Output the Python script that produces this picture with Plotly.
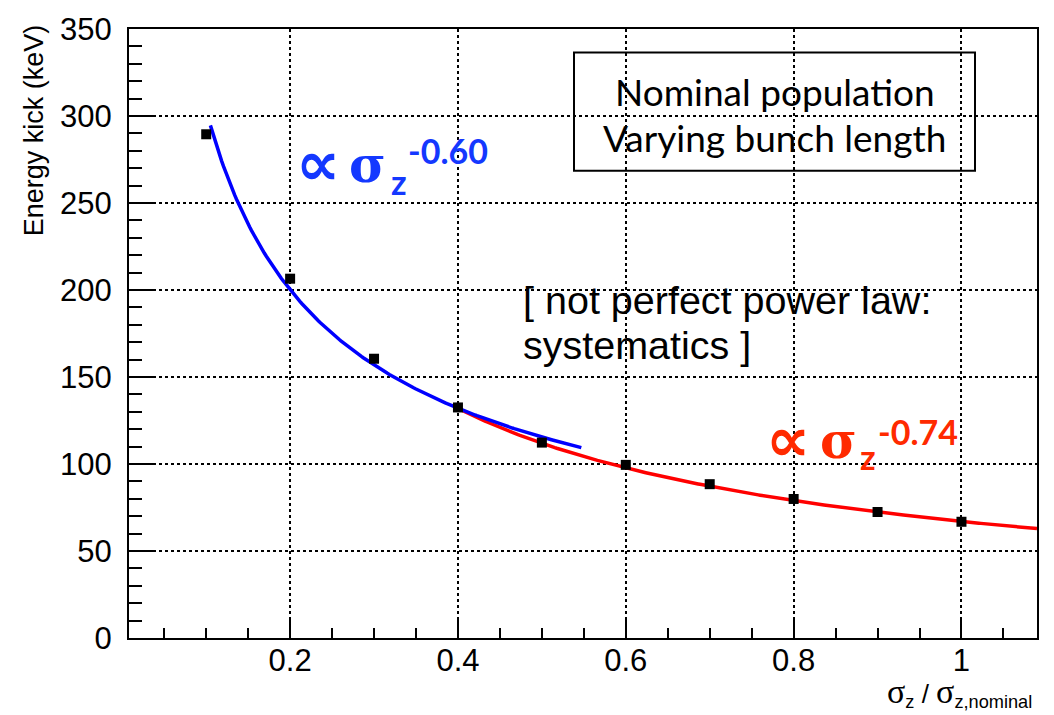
import numpy as np
import plotly.graph_objects as go

# Measured energy kick versus relative bunch length
sigma_ratio = [0.1, 0.2, 0.3, 0.4, 0.5, 0.6, 0.7, 0.8, 0.9, 1.0]
energy_kick = [289.5, 206.5, 160.5, 132.5, 112.3, 99.5, 88.4, 79.9, 72.4, 66.8]

# Power-law fits  E = amp * (sigma_z / sigma_z,nominal)^exp
short_fit_amp, short_fit_exp, short_fit_lo, short_fit_hi = 76.2, -0.60, 0.105, 0.547
long_fit_amp, long_fit_exp, long_fit_lo, long_fit_hi = 67.0, -0.74, 0.40, 1.09

x_range = [0.008, 1.09]
y_range = [0, 350]

# plot-area geometry in pixels (used to place free text)
W, H = 1054, 715
L, R, T, B = 129, 17, 19, 77
PX0, PX1, PY0, PY1 = L, W - R, T, H - B


def px(x):
    return (x - PX0) / (PX1 - PX0)


def py(y):
    return (PY1 - y) / (PY1 - PY0)


xs_short = np.linspace(short_fit_lo, short_fit_hi, 200)
xs_long = np.linspace(long_fit_lo, long_fit_hi, 300)

fig = go.Figure()
fig.add_trace(go.Scatter(x=xs_long, y=long_fit_amp * xs_long ** long_fit_exp,
                         mode="lines", line=dict(color="#ff0000", width=3.5),
                         hoverinfo="skip"))
fig.add_trace(go.Scatter(x=xs_short, y=short_fit_amp * xs_short ** short_fit_exp,
                         mode="lines", line=dict(color="#0000ff", width=3.5),
                         hoverinfo="skip"))
fig.add_trace(go.Scatter(x=sigma_ratio, y=energy_kick, mode="markers",
                         marker=dict(symbol="square", size=10, color="black",
                                     line=dict(width=0))))

axis_common = dict(
    showline=True, linecolor="black", linewidth=2, mirror=True,
    ticks="inside", tickcolor="black", tickwidth=2,
    showgrid=True, gridcolor="black", griddash="dot", gridwidth=1.5,
    zeroline=False,
    tickfont=dict(family="Liberation Sans, Arial, sans-serif", size=31, color="black"),
)

fig.update_xaxes(range=x_range, tick0=0, dtick=0.2, ticklen=18, ticklabelstandoff=-6,
                 minor=dict(ticks="inside", ticklen=10, tickwidth=1.5, tickcolor="black",
                            dtick=0.05, tick0=0, showgrid=False),
                 **axis_common)
fig.update_yaxes(range=y_range, tick0=0, dtick=50, ticklen=27, ticklabelstandoff=9,
                 minor=dict(ticks="inside", ticklen=13, tickwidth=1.5, tickcolor="black",
                            dtick=10, tick0=0, showgrid=False),
                 **axis_common)

sans = "Liberation Sans, Arial, sans-serif"
serif = "DejaVu Serif, Liberation Serif, serif"
blue_txt = "#1438ff"
red_txt = "#ff2a00"

ann = []


def text(s, x, y, size, color="black", family=sans, xa="left", ya="middle", angle=0):
    ann.append(dict(text=s, x=px(x), y=py(y), xref="paper", yref="paper",
                    xanchor=xa, yanchor=ya, showarrow=False, textangle=angle,
                    font=dict(family=family, size=size, color=color)))


# axis titles
text("Energy kick (keV)", 34, 122, 27, xa="center", angle=-90)
sig = "<span style='font-family:Liberation Serif;font-size:34px'>σ</span>"
text(f"{sig}<sub>z</sub> / {sig}<sub>z,nominal</sub>", 1034, 693, 26, xa="right")

# fit labels
text("<b>∝</b>", 294, 156, 62, blue_txt, family="DejaVu Sans, sans-serif")
text("<b>σ</b>", 347, 157, 50, blue_txt, family=serif)
text("<b>z</b>", 389, 174, 34, blue_txt, family="Lato, sans-serif")
text("<b>-0.60</b>", 406, 142, 34, blue_txt, family="Lato, sans-serif")

text("<b>∝</b>", 764, 436, 62, red_txt, family="DejaVu Sans, sans-serif")
text("<b>σ</b>", 818, 437, 50, red_txt, family=serif)
text("<b>z</b>", 858, 454, 34, red_txt, family="Lato, sans-serif")
text("<b>-0.74</b>", 876, 428, 34, red_txt, family="Lato, sans-serif")

# remark
text("[ not perfect power law:", 521, 294, 39.5)
text("systematics ]", 521, 340, 39.5)

# info box
text("Nominal population", 774.5, 83, 37, family="Lato, sans-serif", xa="center")
text("Varying bunch length", 774.5, 129, 37, family="Lato, sans-serif", xa="center")

fig.add_shape(type="rect", xref="paper", yref="paper",
              x0=px(574), x1=px(975), y0=py(163), y1=py(43),
              line=dict(color="black", width=2), fillcolor="rgba(0,0,0,0)")

fig.update_layout(
    width=W, height=H, autosize=False,
    margin=dict(l=L, r=R, t=T, b=B),
    plot_bgcolor="white", paper_bgcolor="white",
    showlegend=False, annotations=ann,
)

fig.write_html("out.html")
